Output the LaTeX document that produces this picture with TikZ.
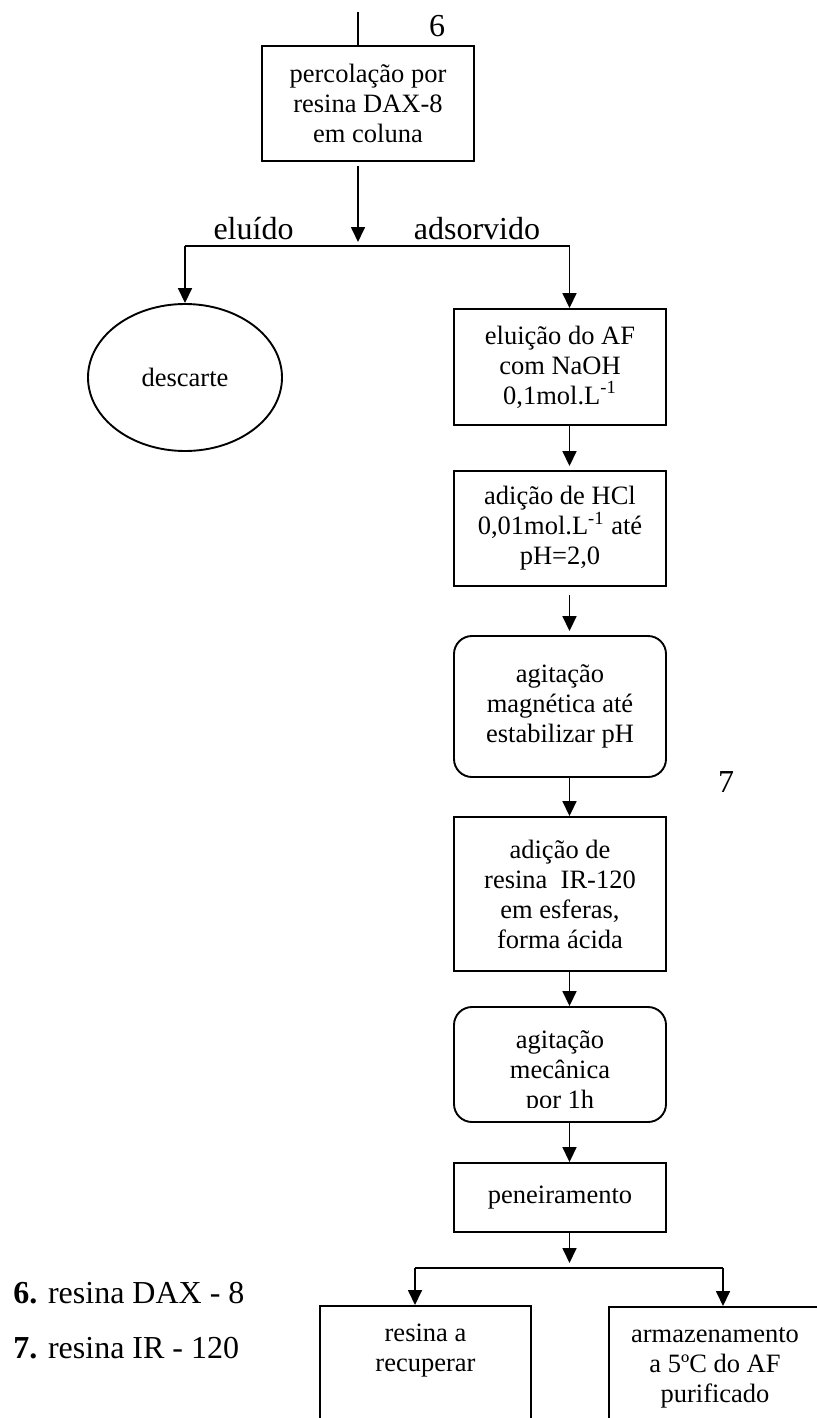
\documentclass[tikz,border=0pt]{standalone}
\usepackage{fontspec}
\setmainfont{Liberation Serif}
\usetikzlibrary{arrows.meta,shapes.geometric}
\newcommand{\bxfont}{\fontsize{13.25pt}{15pt}\selectfont}
\newcommand{\lbfont}{\fontsize{16pt}{19pt}\selectfont}
\tikzset{
  box/.style={draw, line width=0.95pt, align=center, inner sep=0pt, minimum width=106pt, font=\bxfont},
  rbox/.style={box, rounded corners=9pt},
  txt/.style={align=center, inner sep=0pt, font=\bxfont},
  lbl/.style={inner sep=0pt, font=\lbfont},
  conn/.style={line width=0.85pt},
  arr/.style={conn, -{Triangle[length=7.5pt,width=7pt]}}
}
\begin{document}
\begin{tikzpicture}[x=0.5pt,y=-0.5pt]
\useasboundingbox (0,0) rectangle (817,1418);
\begin{scope}
\clip (0,0) rectangle (817,1418);
% boxes
\node[box, minimum height=57.5pt] (b1) at (368,103.5) {percolação por\\resina DAX-8\\em coluna};
\node[draw, ellipse, line width=0.95pt, inner sep=0pt, minimum width=97pt, minimum height=73.5pt, font=\bxfont] (ell) at (185,377.5) {\raisebox{-3pt}{descarte}};
\node[box, minimum height=58pt] (b2) at (560,367) {eluição do AF\\com NaOH\\0,1mol.L\textsuperscript{-1}};
\node[box, minimum height=57.5pt] (b3) at (560,528.5) {adição de HCl\\0,01mol.L\textsuperscript{-1} até\\pH=2,0};
\node[rbox, minimum height=70.5pt] (b4) at (560,706.5) {agitação\\magnética até\\estabilizar pH};
\node[box, minimum height=77pt] (b5) at (560,894) {adição de\\resina\ \ IR-120\\em esferas,\\forma ácida};
\node[rbox, minimum height=57.5pt] (b6) at (560,1064.5) {};
\begin{scope}
\clip (454,1007) rectangle (666,1107);
\node[txt] (t6) at (560,1072) {agitação\\mecânica\\por 1h};
\end{scope}
\node[box, minimum height=34.5pt] (b7) at (560,1197.5) {peneiramento};
\node[draw, line width=0.95pt, inner sep=0pt, anchor=north, font=\bxfont] (b8) at (425.5,1305)
  {\parbox[t][90pt][t]{105.5pt}{\centering\rule{0pt}{18pt}resina a\\recuperar}};
\node[draw, line width=0.95pt, inner sep=0pt, anchor=north, font=\bxfont] (b9) at (715,1306)
  {\parbox[t][90pt][t]{106pt}{\centering\rule{0pt}{18pt}armazenamento\\a 5ºC do AF\\purificado}};
% labels
\node[lbl, anchor=base] (l6) at (437,37) {6};
\node[lbl, anchor=base] (l7) at (726,792) {7};
\node[lbl, anchor=base] (le) at (253.5,239) {eluído};
\node[lbl, anchor=base] (la) at (477,239) {adsorvido};
\node[lbl, anchor=base west] (lg1) at (13,1303) {\textbf{6.} resina DAX - 8};
\node[lbl, anchor=base west] (lg2) at (13,1358) {\textbf{7.} resina IR - 120};
% connectors
\coordinate (in) at (358,12);
\coordinate (j1) at (358,246);
\coordinate (cr) at (569.5,246);
\coordinate (jl) at (415,1268);
\coordinate (jr) at (723,1268);
\coordinate (j2) at (569.5,1268);
\draw[conn] (in) -- (in |- b1.north);
\draw[arr, shorten <=2pt, shorten >=2pt] (in |- b1.south) -- (j1);
\draw[conn] (ell.north |- j1) -- (cr);
\draw[arr] (ell.north |- j1) -- (ell.north);
\draw[arr] (cr) -- (cr |- b2.north);
\draw[arr, shorten >=2pt] (cr |- b2.south) -- (cr |- b3.north);
\draw[arr, shorten <=4pt, shorten >=2pt] (cr |- b3.south) -- (cr |- b4.north);
\draw[arr] (cr |- b4.south) -- (cr |- b5.north);
\draw[arr] (cr |- b5.south) -- (cr |- b6.north);
\draw[arr] (cr |- b6.south) -- (cr |- b7.north);
\draw[arr, shorten >=2.5pt] (cr |- b7.south) -- (j2);
\draw[conn] (jl) -- (jr);
\draw[arr] (jl) -- (jl |- b8.north);
\draw[arr] (jr) -- (jr |- b9.north);
\end{scope}
\end{tikzpicture}
\end{document}
